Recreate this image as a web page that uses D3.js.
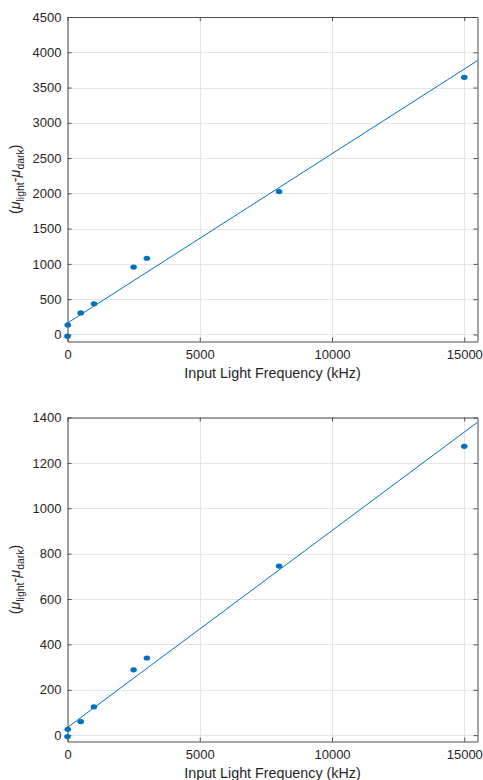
<!DOCTYPE html>
<html>
<head>
<meta charset="utf-8">
<script src="https://cdn.jsdelivr.net/npm/d3@7"></script>
<style>
  html, body { margin: 0; padding: 0; background: #fff; }
  svg { display: block; font-family: "Liberation Sans", Arial, Helvetica, sans-serif; }
</style>
</head>
<body>
<svg id="chart" width="483" height="780"></svg>
<script>
// Input light frequency (kHz) for each measurement
const freqKHz = [0, 10, 500, 1000, 2500, 3000, 8000, 15000];

// Upper panel: mean light minus mean dark signal
const topSignal = [-25, 135, 305, 435, 955, 1080, 2025, 3645];
// Lower panel: mean light minus mean dark signal
const bottomSignal = [-6, 26, 60, 125, 288, 340, 745, 1273];

// Linear fit lines, given as endpoint values over the x range
const fitFreq = [0, 15500];
const topFit = [162, 3882];
const bottomFit = [34, 1379];

// Axis tick labels
const xTicks = [0, 5000, 10000, 15000];
const topYTicks = [0, 500, 1000, 1500, 2000, 2500, 3000, 3500, 4000, 4500];
const bottomYTicks = [0, 200, 400, 600, 800, 1000, 1200, 1400];

const xLabel = "Input Light Frequency (kHz)";

const svg = d3.select("#chart");
const blue = "#0072BD";
const axisColor = "#4d4d4d";
const textColor = "#262626";
const gridColor = "#e6e6e6";
const fmt = d3.format("d");

function panel(cfg) {
  const { left, right, top, bottom, yDomain, yTicks, values, fit } = cfg;
  const x = d3.scaleLinear().domain([0, 15500]).range([left, right]);
  const y = d3.scaleLinear().domain(yDomain).range([bottom, top]);
  const g = svg.append("g");

  // grid
  g.append("g").selectAll("line.vg").data(xTicks).join("line")
    .attr("x1", d => Math.round(x(d)) + 0.5).attr("x2", d => Math.round(x(d)) + 0.5)
    .attr("y1", top).attr("y2", bottom)
    .attr("stroke", gridColor).attr("stroke-width", 1);
  g.append("g").selectAll("line.hg").data(yTicks).join("line")
    .attr("y1", d => Math.round(y(d)) + 0.5).attr("y2", d => Math.round(y(d)) + 0.5)
    .attr("x1", left).attr("x2", right)
    .attr("stroke", gridColor).attr("stroke-width", 1);

  // axes (left/bottom with labels, top/right mirrored)
  const tick = 4;
  const axL = d3.axisLeft(y).tickValues(yTicks).tickFormat(fmt).tickSizeInner(-tick).tickSizeOuter(0).tickPadding(6);
  const axR = d3.axisRight(y).tickValues(yTicks).tickSizeInner(-tick).tickSizeOuter(0).tickFormat("");
  const axB = d3.axisBottom(x).tickValues(xTicks).tickFormat(fmt).tickSizeInner(-tick).tickSizeOuter(0).tickPadding(8);
  const axT = d3.axisTop(x).tickValues(xTicks).tickSizeInner(-tick).tickSizeOuter(0).tickFormat("");

  const styleAxis = sel => {
    sel.selectAll("path, line").attr("stroke", axisColor);
    sel.selectAll("text").attr("fill", textColor).style("font-size", "13px")
      .style("font-family", '"Liberation Sans", Arial, sans-serif');
  };
  g.append("g").attr("transform", `translate(${left},0)`).call(axL).call(styleAxis);
  g.append("g").attr("transform", `translate(${right},0)`).call(axR).call(styleAxis);
  g.append("g").attr("transform", `translate(0,${bottom})`).call(axB).call(styleAxis);
  g.append("g").attr("transform", `translate(0,${top})`).call(axT).call(styleAxis);

  // fit line
  const line = d3.line().x(d => x(d[0])).y(d => y(d[1]));
  g.append("path")
    .datum(d3.zip(fitFreq, fit))
    .attr("d", line)
    .attr("fill", "none").attr("stroke", blue).attr("stroke-width", 1);

  // data markers
  g.append("g").selectAll("ellipse").data(d3.zip(freqKHz, values)).join("ellipse")
    .attr("cx", d => x(d[0])).attr("cy", d => y(d[1]))
    .attr("rx", 3.3).attr("ry", 2.6)
    .attr("fill", blue);

  // x label
  g.append("text")
    .attr("x", (left + right) / 2).attr("y", bottom + 36)
    .attr("text-anchor", "middle")
    .attr("fill", textColor).style("font-size", "14.3px")
    .text(xLabel);

  // y label with subscripts
  const cy = (top + bottom) / 2;
  const yl = g.append("text")
    .attr("transform", `translate(20,${cy}) rotate(-90)`)
    .attr("text-anchor", "middle")
    .attr("fill", textColor).style("font-size", "14.3px");
  yl.append("tspan").text("(");
  yl.append("tspan").style("font-style", "italic").text("\u03bc");
  yl.append("tspan").attr("dy", 4).style("font-size", "10.5px").text("light");
  yl.append("tspan").attr("dy", -4).text("-");
  yl.append("tspan").style("font-style", "italic").text("\u03bc");
  yl.append("tspan").attr("dy", 4).style("font-size", "10.5px").text("dark");
  yl.append("tspan").attr("dy", -4).text(")");
}

panel({ left: 67.5, right: 477.5, top: 17, bottom: 341.5,
        yDomain: [-100, 4500], yTicks: topYTicks, values: topSignal, fit: topFit });
panel({ left: 67.5, right: 477.5, top: 417.5, bottom: 741.5,
        yDomain: [-28, 1400], yTicks: bottomYTicks, values: bottomSignal, fit: bottomFit });
</script>
</body>
</html>
